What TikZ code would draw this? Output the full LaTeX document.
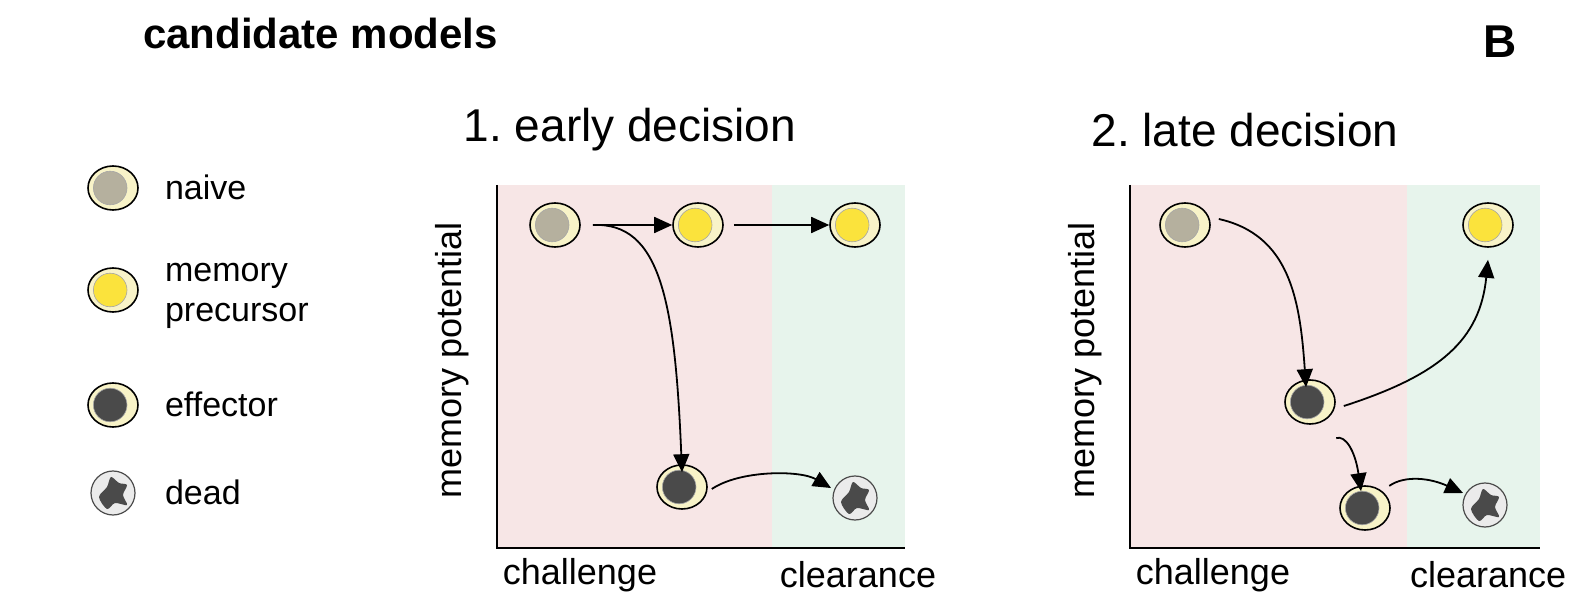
\documentclass[tikz,border=0pt]{standalone}
\usepackage{fontspec}
\setmainfont{Liberation Sans}
\usetikzlibrary{shapes.geometric,arrows.meta}
\definecolor{cream}{HTML}{F8F3C8}
\definecolor{naivec}{HTML}{B5B09E}
\definecolor{memc}{HTML}{FBE33C}
\definecolor{effc}{HTML}{4A4A4A}
\definecolor{pinkbg}{HTML}{F7E6E6}
\definecolor{greenbg}{HTML}{E7F4EC}
\frenchspacing
\tikzset{
 cell/.style={ellipse,draw=black,line width=0.8pt,fill=cream,minimum width=25pt,minimum height=22pt,inner sep=0pt,
   path picture={\fill[#1,draw=gray!70,line width=0.3pt] ([xshift=-1.4pt]path picture bounding box.center) circle (8.4pt);}},
 dead/.style={circle,draw=black!70,line width=0.6pt,fill=black!8,minimum size=22pt,inner sep=0pt,
   path picture={\fill[effc,shift={(path picture bounding box.center)}] plot[smooth cycle] coordinates{(-7pt,-2pt)(-3pt,3pt)(-1pt,8pt)(3pt,5pt)(7pt,4pt)(5pt,-1pt)(7pt,-6pt)(1pt,-5pt)(-3pt,-8pt)};}},
 arr/.style={-{Triangle[length=9pt,width=8pt]},line width=0.9pt},
 lbl/.style={font=\fontsize{18}{21}\selectfont},
 leg/.style={font=\fontsize{17}{20}\selectfont,anchor=west,align=left},
 ttl/.style={font=\fontsize{23}{27}\selectfont},
}
\begin{document}
\begin{tikzpicture}[x=0.5pt,y=-0.5pt]
\useasboundingbox (0,0) rectangle (1574,614);
\node[anchor=west,font=\bfseries\fontsize{21}{24}\selectfont] (title) at (136,33) {candidate models};
\node[font=\bfseries\fontsize{23}{27}\selectfont] (B) at (1500,42) {B};
% legend
\node[cell=naivec] (l1) at (113,188) {};
\node[leg] (t1) at (158,187) {naive};
\node[cell=memc] (l2) at (113,290) {};
\node[leg] (t2) at (158,296) {memory\\precursor};
\node[cell=effc] (l3) at (113,405) {};
\node[leg] (t3) at (158,404) {effector};
\node[dead] (l4) at (113,493) {};
\node[leg] (t4) at (158,492) {dead};
% panel 1
\fill[pinkbg] (497,185) rectangle (772,548);
\fill[greenbg] (772,185) rectangle (905,548);
\draw[line width=1pt] (497,185) -- (497,548) -- (905,548);
\node[ttl] (p1) at (630,130) {1. early decision};
\node[lbl,rotate=90] (y1) at (452,360) {memory potential};
\node[lbl] (c1) at (580,575) {challenge};
\node[lbl] (r1) at (858,575) {clearance};
\node[cell=naivec] (a1) at (555,225) {};
\node[cell=memc] (a2) at (698,225) {};
\node[cell=memc] (a3) at (855,225) {};
\node[cell=effc] (a4) at (682,487) {};
\node[dead] (a5) at (855,498) {};
\draw[arr] ([xshift=6pt]a1.east) -- (a2.west);
\draw[arr] ([xshift=5pt]a2.east) -- (a3.west);
\draw[arr] ([xshift=6pt]a1.east) .. controls (660,222) and (675,300) .. ([yshift=-4pt]a4.north);
\draw[arr] ([xshift=2pt,yshift=-1pt]a4.east) .. controls (740,470) and (800,470) .. ([xshift=-4pt,yshift=-3pt]a5.north west);
% panel 2
\fill[pinkbg] (1130,185) rectangle (1407,548);
\fill[greenbg] (1407,185) rectangle (1540,548);
\draw[line width=1pt] (1130,185) -- (1130,548) -- (1540,548);
\node[ttl] (p2) at (1245,130) {2. late decision};
\node[lbl,rotate=90] (y2) at (1085,360) {memory potential};
\node[lbl] (c2) at (1213,575) {challenge};
\node[lbl,anchor=west] (r2) at (1403,575) {clearance};
\node[cell=naivec] (b1) at (1185,225) {};
\node[cell=memc] (b2) at (1488,225) {};
\node[cell=effc] (b3) at (1310,402) {};
\node[cell=effc] (b4) at (1365,508) {};
\node[dead] (b5) at (1485,505) {};
\draw[arr] ([xshift=4pt,yshift=3pt]b1.east) .. controls (1290,235) and (1300,300) .. ([xshift=-2pt,yshift=-4pt]b3.north);
\draw[arr] ([xshift=4pt,yshift=-2pt]b3.east) .. controls (1440,375) and (1480,340) .. ([yshift=-6pt]b2.south);
\draw[arr] ([xshift=4pt,yshift=-10pt]b3.south east) .. controls (1345,435) and (1355,450) .. ([xshift=-2pt,yshift=-3pt]b4.north);
\draw[arr] ([xshift=3pt,yshift=3pt]b4.north east) .. controls (1405,475) and (1430,478) .. ([xshift=-3pt,yshift=-2pt]b5.north west);
\end{tikzpicture}
\end{document}
